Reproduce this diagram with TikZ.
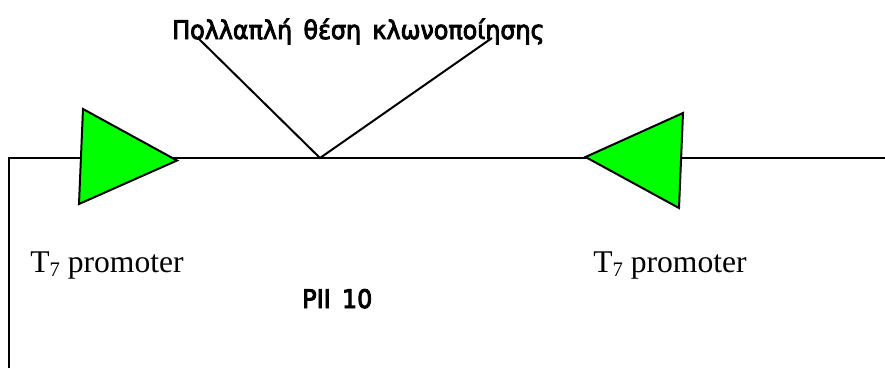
\documentclass[tikz,border=0pt]{standalone}
\usepackage{fontspec}
\setmainfont{Liberation Serif}
\newfontfamily\comicfont{DejaVu Sans}[FakeBold=3.5,FakeStretch=0.93,WordSpace=1.5]
\newcommand{\subseven}{\raisebox{-3pt}{\fontsize{15.5pt}{16pt}\selectfont 7}}
\tikzset{x=0.75pt,y=-0.75pt,
  wire/.style={draw=black,line width=1.5pt},
  promoter/.style={draw=black,fill=green,line width=1.5pt,line join=miter},
  serifLabel/.style={font=\fontsize{23.7pt}{26pt}\selectfont,inner sep=0pt,anchor=base west,text=black},
  comicLabel/.style={font=\comicfont\fontsize{19.2pt}{22pt}\selectfont,inner sep=0pt,anchor=base west,text=black}}
\begin{document}
\begin{tikzpicture}
\useasboundingbox (0,0) rectangle (885,368);
\coordinate (corner) at (8.5,158);
\coordinate (bottom) at (8.5,368);
\coordinate (rightend) at (885,158);
\coordinate (vee) at (320,158);
\coordinate (veeL) at (198,38);
\coordinate (veeR) at (492,38);
\draw[wire] (bottom) -- (corner) -- (rightend);
\draw[wire] (veeL) -- (vee) -- (veeR);
\draw[promoter] (83,109) -- (177,160.5) -- (79,204) -- cycle;
\draw[promoter] (683,113) -- (585.5,157) -- (679,208) -- cycle;
\node[comicLabel] (title) at (172,39) {Πολλαπλή θέση κλωνοποίησης};
\node[serifLabel] (t7a) at (30,272) {T\subseven{} promoter};
\node[serifLabel] (t7b) at (593,272) {T\subseven{} promoter};
\node[comicLabel] (pii) at (302,308) {PII 10};
\end{tikzpicture}
\end{document}
